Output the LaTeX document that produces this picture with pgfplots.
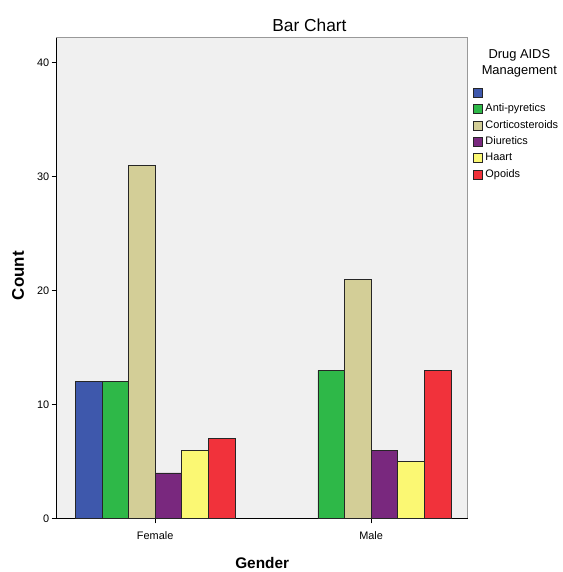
\documentclass[border=0pt]{standalone}
\usepackage{pgfplots}
\pgfplotsset{compat=1.18}
\usepackage{fontspec}
\setmainfont{Liberation Sans}
\definecolor{cBlue}{HTML}{3E58AC}
\definecolor{cGreen}{HTML}{2EB848}
\definecolor{cTan}{HTML}{D3CE97}
\definecolor{cPurple}{HTML}{79287E}
\definecolor{cYellow}{HTML}{FBF873}
\definecolor{cRed}{HTML}{F1323B}
\definecolor{bgGray}{HTML}{F0F0F0}
\begin{document}
\begin{tikzpicture}
\begin{axis}[
  scale only axis,
  width=413bp, height=483bp,
  xmin=-0.456, xmax=1.447,
  ymin=0, ymax=42.2,
  ybar=0pt, bar width=26.7bp,
  axis x line*=bottom, axis y line*=left,
  axis line style={black, line width=0.8bp},
  axis background/.style={fill=bgGray, draw=gray!80, line width=0.8bp},
  xtick={0,1}, xticklabels={Female,Male},
  ytick={0,10,20,30,40},
  tick align=outside,
  major tick length=5bp,
  tick style={black, line width=0.8bp},
  /pgf/number format/assume math mode=true,
  ticklabel style={font=\fontsize{11}{12}\selectfont},
  xticklabel style={yshift=-5bp},
  yticklabel style={xshift=1bp},
  xlabel={Gender}, ylabel={Count},
  xlabel style={font=\bfseries\fontsize{15.5}{17}\selectfont, at={(axis description cs:0.5,-0.093)}, anchor=center},
  ylabel style={font=\bfseries\fontsize{17}{19}\selectfont, at={(axis description cs:-0.094,0.505)}, anchor=center},
  title={Bar Chart},
  title style={font=\fontsize{17.5}{19}\selectfont, at={(axis description cs:0.615,1.013)}, anchor=center},
  every axis plot/.append style={draw=black!85, line width=0.6bp},
  legend image code/.code={\draw[#1] (0bp,-4.5bp) rectangle (9bp,4.5bp); \path[draw=none, fill=none] (0bp,0bp) -- (11.5bp,0bp);},
  legend cell align=left,
  legend style={at={(axis description cs:1.012,0.899)}, anchor=north west,
    draw=none, fill=none, font=\fontsize{11}{12}\selectfont,
    row sep=3.9bp, inner sep=0pt,
    nodes={inner sep=1bp, text height=8bp, text depth=2.5bp}},
]
\addplot[fill=cBlue] coordinates {(0,12)};
\addlegendentry{\mbox{}}
\addplot[fill=cGreen] coordinates {(0,12) (1,13)};
\addlegendentry{Anti-pyretics}
\addplot[fill=cTan] coordinates {(0,31) (1,21)};
\addlegendentry{Corticosteroids}
\addplot[fill=cPurple] coordinates {(0,4) (1,6)};
\addlegendentry{Diuretics}
\addplot[fill=cYellow] coordinates {(0,6) (1,5)};
\addlegendentry{Haart}
\addplot[fill=cRed] coordinates {(0,7) (1,13)};
\addlegendentry{Opoids}
\end{axis}
\node[align=center, font=\fontsize{13}{16}\selectfont, anchor=center] at ([xshift=465bp,yshift=-26bp]current axis.north west) {Drug AIDS\\Management};
\path ([xshift=-57bp,yshift=-51bp]current axis.south west) rectangle ++(565bp,572bp);
\end{tikzpicture}
\end{document}
